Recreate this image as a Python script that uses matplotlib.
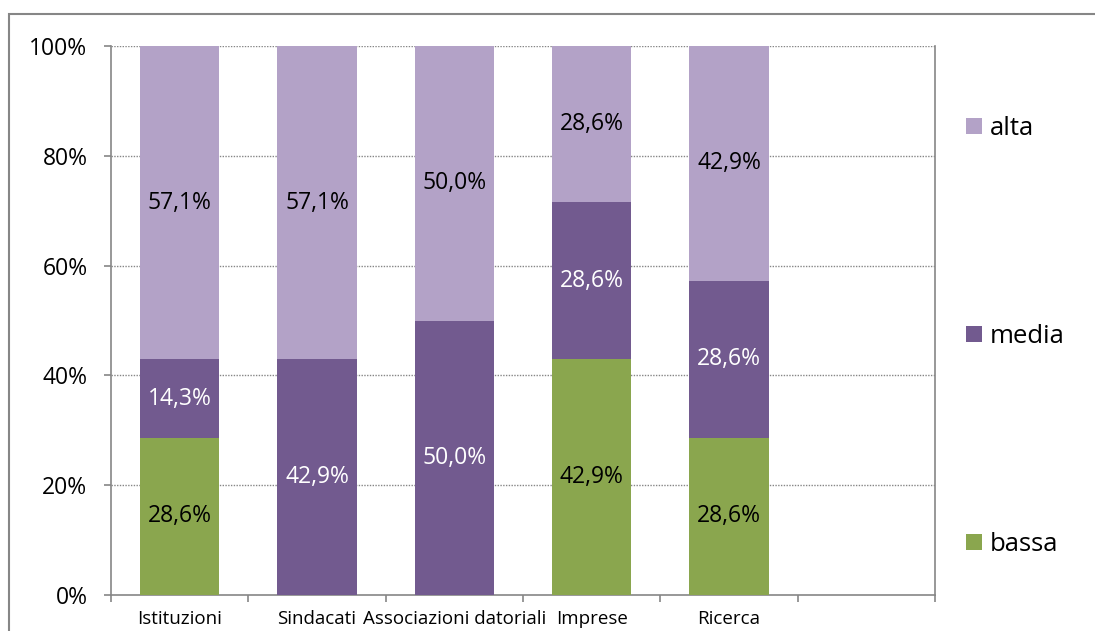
import matplotlib.pyplot as plt
from matplotlib.patches import Rectangle

# Dati del grafico
categorie = ['Istituzioni', 'Sindacati', 'Associazioni datoriali', 'Imprese', 'Ricerca']
bassa = [28.6, 0.0, 0.0, 42.9, 28.6]
media = [14.3, 42.9, 50.0, 28.6, 28.6]
alta = [57.1, 57.1, 50.0, 28.6, 42.9]
y_ticks = [0, 20, 40, 60, 80, 100]

colori = {'bassa': '#8AA64E', 'media': '#725A8F', 'alta': '#B3A2C7'}
colori_testo = {'bassa': 'black', 'media': 'white', 'alta': 'black'}

plt.rcParams['font.family'] = ['Open Sans', 'DejaVu Sans']

fig = plt.figure(figsize=(10.95, 6.31), dpi=100)
ax = fig.add_axes([111 / 1095, 1 - 595 / 631, (935 - 111) / 1095, (595 - 46) / 631])

# cornice esterna del grafico
fig.patches.append(Rectangle((9 / 1095, -0.05), 1.2, 1 - 14 / 631 + 0.05,
                             transform=fig.transFigure, fill=False,
                             edgecolor='#868686', linewidth=1.5))

x = list(range(len(categorie)))
serie = [('bassa', bassa), ('media', media), ('alta', alta)]
bottom = [0.0] * len(categorie)
handles = {}
for nome, valori in serie:
    bars = ax.bar(x, valori, width=0.58, bottom=bottom, color=colori[nome],
                  label=nome, zorder=3)
    handles[nome] = bars
    for xi, b, v in zip(x, bottom, valori):
        if v > 0:
            ax.text(xi, b + v / 2, f'{v:.1f}%'.replace('.', ','),
                    ha='center', va='center', fontsize=16.5,
                    color=colori_testo[nome], zorder=4)
    bottom = [b + v for b, v in zip(bottom, valori)]

ax.set_xlim(-0.5, 5.5)
ax.set_ylim(0, 100)

ax.set_yticks(y_ticks)
ax.set_yticklabels([f'{t}%' for t in y_ticks], fontsize=16.5)
for t in y_ticks[1:]:
    ax.axhline(t, color='#868686', linestyle=(0, (1, 1)), linewidth=1, zorder=1)

ax.set_xticks([i - 0.5 for i in range(7)])
ax.set_xticklabels([])
ax.set_xticks(x, minor=True)
ax.set_xticklabels(categorie, minor=True, fontsize=13.5)
ax.tick_params(axis='x', which='minor', length=0, pad=11)
ax.tick_params(axis='x', which='major', length=5, color='#868686', width=1.2)
ax.tick_params(axis='y', length=5, color='#868686', width=1.2, pad=12)

for lato in ['left', 'bottom', 'right']:
    ax.spines[lato].set_color('#868686')
    ax.spines[lato].set_linewidth(1.2)
ax.spines['top'].set_visible(False)

leg = ax.legend([handles['alta'], handles['media'], handles['bassa']],
                ['alta', 'media', 'bassa'],
                loc='upper left', bbox_to_anchor=(966 / 1095, 1 - 116 / 631),
                bbox_transform=fig.transFigure, frameon=False, fontsize=18.5,
                handlelength=0.62, handleheight=0.62, handletextpad=0.3,
                labelspacing=7.12, borderpad=0, borderaxespad=0)

fig.savefig('out.png', dpi=100)
